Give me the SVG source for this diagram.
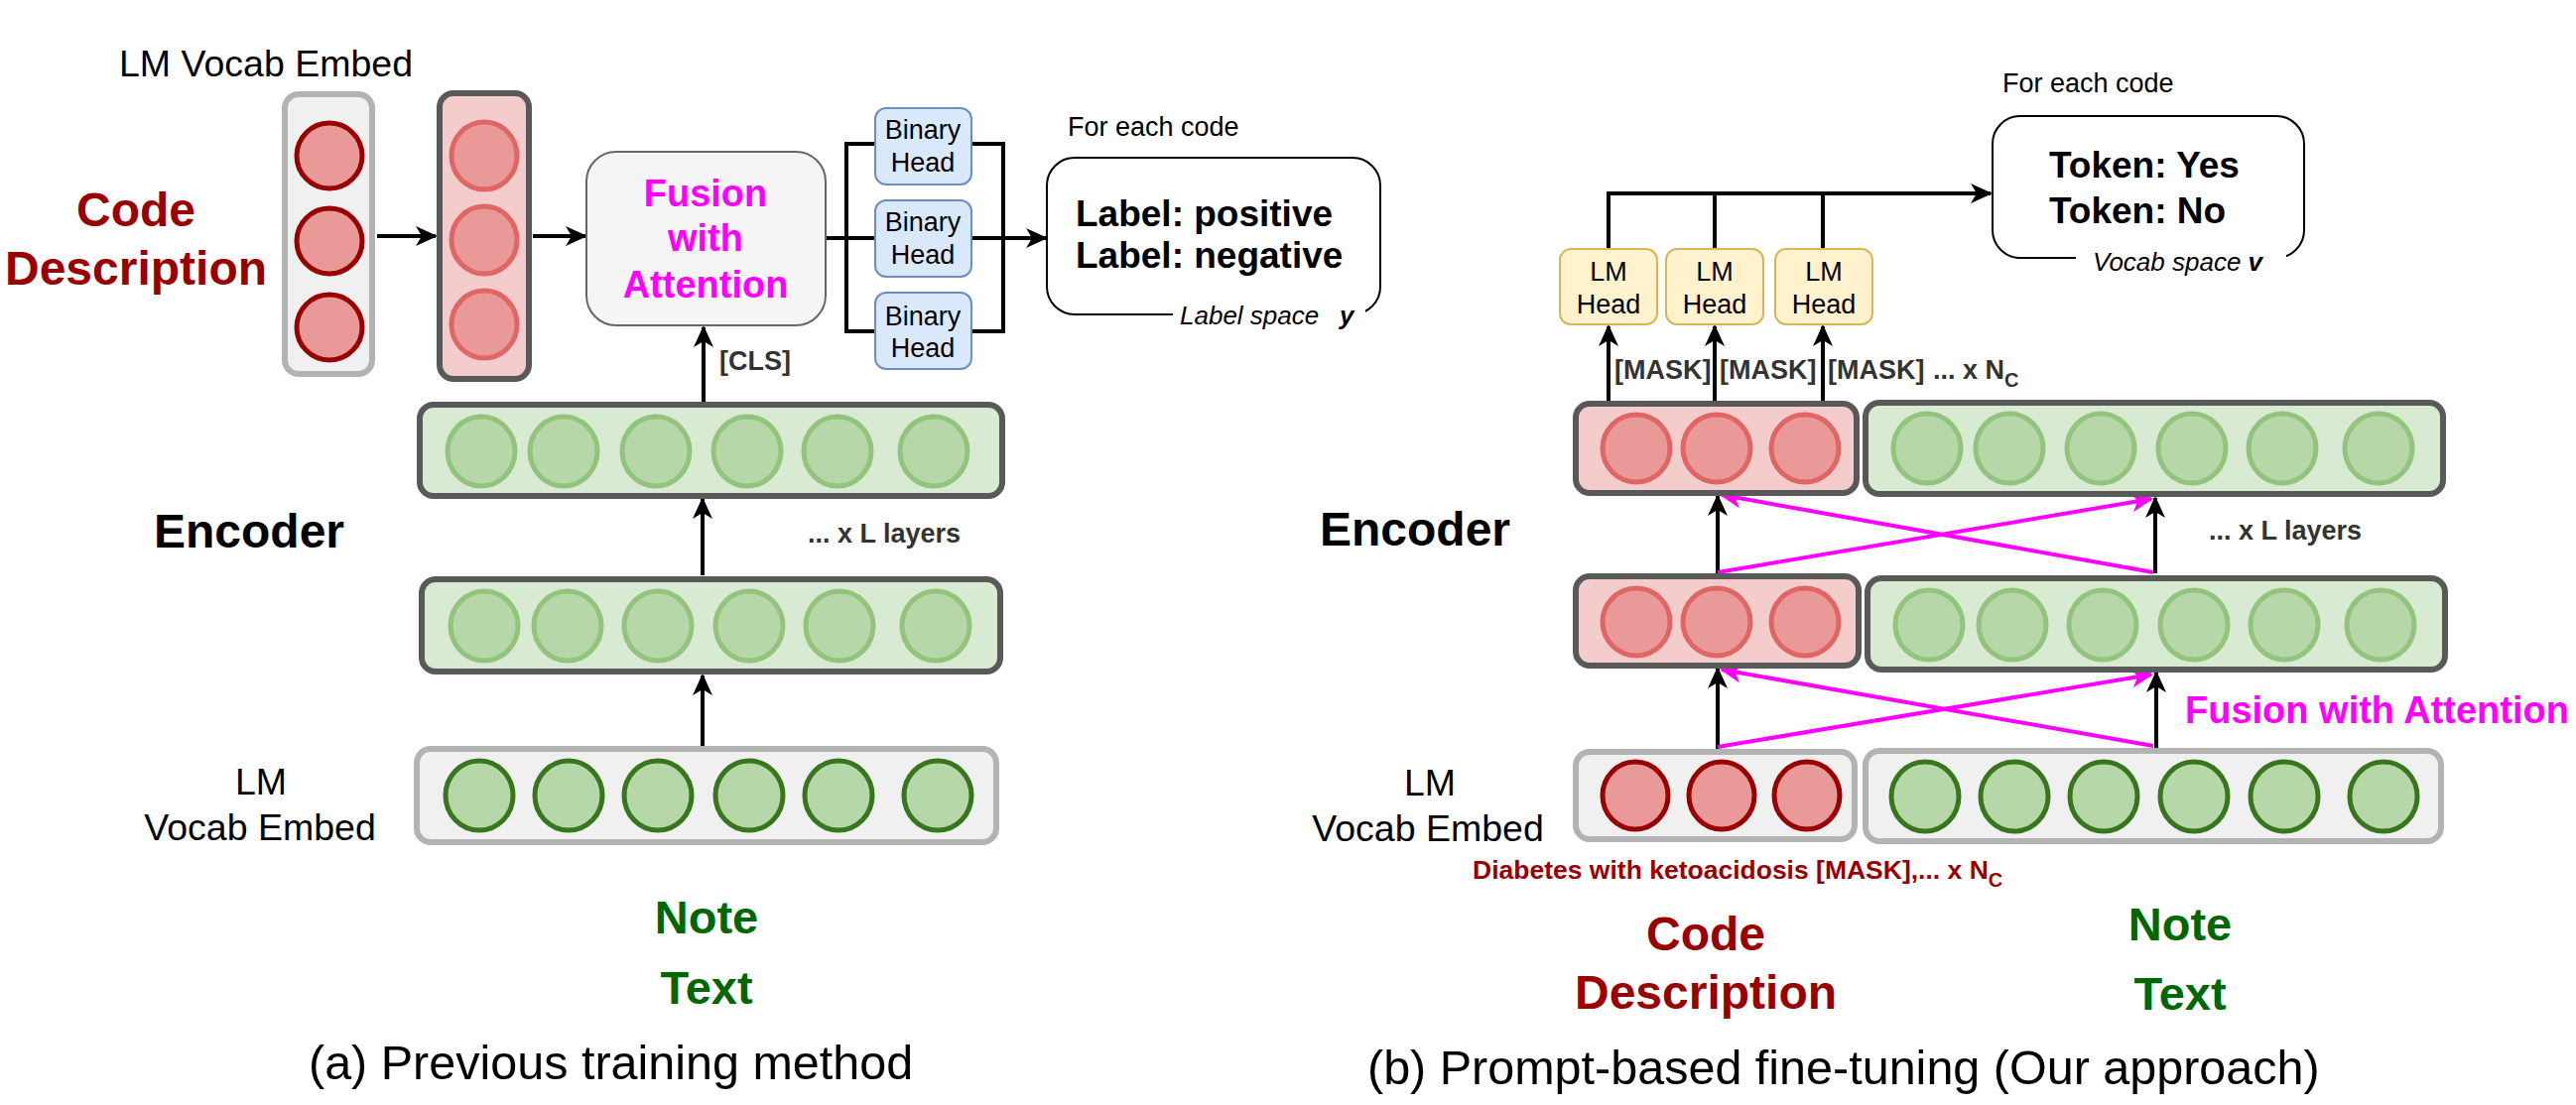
<svg xmlns="http://www.w3.org/2000/svg" width="2596" height="1114" viewBox="0 0 2596 1114">
<style>
text{font-family:"Liberation Sans",Arial,Helvetica,sans-serif;}
.reg{font-size:37.5px;fill:#000;}
.head{font-size:27px;fill:#000;text-anchor:middle;}
.small{font-size:27px;fill:#000;}
.big{font-size:37px;font-weight:bold;fill:#000;}
.ital{font-size:26px;font-style:italic;fill:#000;}
.lbl{font-size:27px;font-weight:bold;fill:#333;}
.enc{font-size:48px;font-weight:bold;fill:#000;}
.code{font-size:48px;font-weight:bold;fill:#990000;text-anchor:middle;}
.note{font-size:47px;font-weight:bold;fill:#006600;text-anchor:middle;}
.fus{font-size:38px;font-weight:bold;fill:#ff00ff;}
.cap{font-size:48.5px;fill:#000;}
.box-dark{stroke:#595959;stroke-width:6;}
.box-gray{fill:#f0f0f0;stroke:#b3b3b3;stroke-width:6;}
.fill-g{fill:#d9ead3;}
.fill-p{fill:#f4cccc;}
.c-lg{fill:#b6d7a8;stroke:#93c47d;stroke-width:5;}
.c-dg{fill:#b6d7a8;stroke:#38761d;stroke-width:5;}
.c-pk{fill:#ea9999;stroke:#e06666;stroke-width:5;}
.c-dr{fill:#ea9999;stroke:#990000;stroke-width:5;}
.bh{fill:#dae8fc;stroke:#6c8ebf;stroke-width:2;}
.lh{fill:#fff2cc;stroke:#d6b656;stroke-width:2;}
.ln{stroke:#000;stroke-width:4;fill:none;}
.lm{stroke:#ff00ff;stroke-width:4;fill:none;}
.arr{marker-end:url(#ah);}
.arrm{marker-end:url(#ahm);}
</style>
<defs>
<marker id="ah" markerUnits="userSpaceOnUse" markerWidth="22" markerHeight="20" refX="20" refY="10" orient="auto" viewBox="0 0 22 20">
<path d="M0,0 L22,10 L0,20 L6,10 z" fill="#000"/>
</marker>
<marker id="ahm" markerUnits="userSpaceOnUse" markerWidth="22" markerHeight="20" refX="20" refY="10" orient="auto" viewBox="0 0 22 20">
<path d="M0,0 L22,10 L0,20 L6,10 z" fill="#ff00ff"/>
</marker>
</defs>
<rect width="2596" height="1114" fill="#fff"/>

<!-- ===== Connectors ===== -->
<g id="connectors">
<!-- left -->
<line class="ln arr" x1="380" y1="238" x2="439" y2="238"/>
<line class="ln arr" x1="537" y1="238" x2="590" y2="238"/>
<line class="ln arr" x1="709" y1="405" x2="709" y2="330"/>
<line class="ln arr" x1="708" y1="580" x2="708" y2="503"/>
<line class="ln arr" x1="708" y1="752" x2="708" y2="681"/>
<line class="ln" x1="832" y1="240" x2="882" y2="240"/>
<polyline class="ln" points="882,145 853,145 853,334 882,334"/>
<polyline class="ln" points="979,145 1011,145 1011,334 979,334"/>
<line class="ln arr" x1="979" y1="240" x2="1054" y2="240"/>
<!-- right -->
<line class="ln arr" x1="1621" y1="405" x2="1621" y2="329"/>
<line class="ln arr" x1="1728" y1="405" x2="1728" y2="329"/>
<line class="ln arr" x1="1837" y1="405" x2="1837" y2="329"/>
<line class="ln" x1="1621" y1="251" x2="1621" y2="195"/>
<line class="ln" x1="1728" y1="251" x2="1728" y2="195"/>
<line class="ln" x1="1837" y1="251" x2="1837" y2="195"/>
<line class="ln arr" x1="1619" y1="195" x2="2006" y2="195"/>
<line class="ln arr" x1="1731" y1="578" x2="1731" y2="500"/>
<line class="ln arr" x1="2172" y1="578" x2="2172" y2="502"/>
<line class="ln arr" x1="1731" y1="755" x2="1731" y2="674"/>
<line class="ln arr" x1="2173" y1="755" x2="2173" y2="678"/>
<line class="lm arrm" x1="1731" y1="577" x2="2168" y2="503"/>
<line class="lm arrm" x1="2170" y1="577" x2="1735" y2="499"/>
<line class="lm arrm" x1="1731" y1="753" x2="2168" y2="680"/>
<line class="lm arrm" x1="2170" y1="752" x2="1735" y2="675"/>
</g>

<!-- ===== Left panel ===== -->
<g id="left-vocab-label"><text class="reg" x="268" y="77" text-anchor="middle">LM Vocab Embed</text></g>
<g id="left-code-desc">
<text class="code" x="137" y="228">Code</text>
<text class="code" x="137" y="287">Description</text>
</g>
<g id="left-code-vocab">
<rect class="box-gray" x="287" y="95" width="88" height="282" rx="14"/>
<ellipse class="c-dr" cx="332" cy="157" rx="33" ry="33"/>
<ellipse class="c-dr" cx="332" cy="243" rx="33" ry="33"/>
<ellipse class="c-dr" cx="332" cy="330" rx="33" ry="33"/>
</g>
<g id="left-code-enc">
<rect class="box-dark fill-p" x="443" y="94" width="90" height="288" rx="14"/>
<ellipse class="c-pk" cx="488" cy="157" rx="33" ry="34"/>
<ellipse class="c-pk" cx="488" cy="242" rx="33" ry="34"/>
<ellipse class="c-pk" cx="488" cy="327" rx="33" ry="34"/>
</g>
<g id="left-fusion">
<rect x="591" y="153" width="241" height="175" rx="30" fill="#f5f5f5" stroke="#666" stroke-width="2"/>
<text class="fus" x="711" y="208" text-anchor="middle">Fusion</text>
<text class="fus" x="711" y="253" text-anchor="middle">with</text>
<text class="fus" x="711" y="300" text-anchor="middle">Attention</text>
</g>
<g id="binary-head-1"><rect class="bh" x="882" y="109" width="97" height="77" rx="11"/><text class="head" x="930" y="140">Binary</text><text class="head" x="930" y="173">Head</text></g>
<g id="binary-head-2"><rect class="bh" x="882" y="202" width="97" height="77" rx="11"/><text class="head" x="930" y="233">Binary</text><text class="head" x="930" y="266">Head</text></g>
<g id="binary-head-3"><rect class="bh" x="882" y="295" width="97" height="77" rx="11"/><text class="head" x="930" y="328">Binary</text><text class="head" x="930" y="360">Head</text></g>
<g id="label-space">
<text class="small" x="1076" y="137">For each code</text>
<rect x="1055" y="159" width="336" height="158" rx="28" fill="#fff" stroke="#000" stroke-width="2"/>
<rect x="1182" y="306" width="194" height="24" fill="#fff"/>
<text class="big" x="1084" y="228">Label: positive</text>
<text class="big" x="1084" y="270">Label: negative</text>
<text class="ital" x="1189" y="327">Label space <tspan x="1350" font-weight="bold">y</tspan></text>
</g>
<g id="left-cls"><text class="lbl" x="725" y="373">[CLS]</text></g>
<g id="left-encoder-label"><text class="enc" x="155" y="552">Encoder</text></g>
<g id="left-layers"><text class="lbl" x="814" y="547">... x L layers</text></g>
<g id="left-row-top">
<rect class="box-dark fill-g" x="423" y="408" width="587" height="92" rx="14"/>
<ellipse class="c-lg" cx="485" cy="455" rx="34" ry="35"/>
<ellipse class="c-lg" cx="568" cy="455" rx="34" ry="35"/>
<ellipse class="c-lg" cx="661" cy="455" rx="34" ry="35"/>
<ellipse class="c-lg" cx="753" cy="455" rx="34" ry="35"/>
<ellipse class="c-lg" cx="844" cy="455" rx="34" ry="35"/>
<ellipse class="c-lg" cx="941" cy="455" rx="34" ry="35"/>
</g>
<g id="left-row-mid">
<rect class="box-dark fill-g" x="425" y="584" width="583" height="93" rx="14"/>
<ellipse class="c-lg" cx="488" cy="631" rx="34" ry="35"/>
<ellipse class="c-lg" cx="572" cy="631" rx="34" ry="35"/>
<ellipse class="c-lg" cx="663" cy="631" rx="34" ry="35"/>
<ellipse class="c-lg" cx="755" cy="631" rx="34" ry="35"/>
<ellipse class="c-lg" cx="846" cy="631" rx="34" ry="35"/>
<ellipse class="c-lg" cx="943" cy="631" rx="34" ry="35"/>
</g>
<g id="left-row-vocab">
<rect class="box-gray" x="420" y="755" width="584" height="94" rx="14"/>
<ellipse class="c-dg" cx="483" cy="802" rx="34" ry="35"/>
<ellipse class="c-dg" cx="573" cy="802" rx="34" ry="35"/>
<ellipse class="c-dg" cx="663" cy="802" rx="34" ry="35"/>
<ellipse class="c-dg" cx="755" cy="802" rx="34" ry="35"/>
<ellipse class="c-dg" cx="845" cy="802" rx="34" ry="35"/>
<ellipse class="c-dg" cx="945" cy="802" rx="34" ry="35"/>
</g>
<g id="left-vocab-label2">
<text class="reg" x="263" y="801" text-anchor="middle">LM</text>
<text class="reg" x="262" y="847" text-anchor="middle">Vocab Embed</text>
</g>
<g id="left-note-text">
<text class="note" x="712" y="941">Note</text>
<text class="note" x="712" y="1012">Text</text>
</g>
<g id="caption-a"><text class="cap" x="311" y="1088">(a) Previous training method</text></g>

<!-- ===== Right panel ===== -->
<g id="lm-head-1"><rect class="lh" x="1572" y="251" width="98" height="76" rx="11"/><text class="head" x="1621" y="283">LM</text><text class="head" x="1621" y="316">Head</text></g>
<g id="lm-head-2"><rect class="lh" x="1679" y="251" width="98" height="76" rx="11"/><text class="head" x="1728" y="283">LM</text><text class="head" x="1728" y="316">Head</text></g>
<g id="lm-head-3"><rect class="lh" x="1789" y="251" width="98" height="76" rx="11"/><text class="head" x="1838" y="283">LM</text><text class="head" x="1838" y="316">Head</text></g>
<g id="vocab-space">
<text class="small" x="2018" y="93">For each code</text>
<rect x="2008" y="117" width="314" height="143" rx="28" fill="#fff" stroke="#000" stroke-width="2"/>
<rect x="2092" y="249" width="212" height="24" fill="#fff"/>
<text class="big" x="2065" y="179">Token: Yes</text>
<text class="big" x="2065" y="225">Token: No</text>
<text class="ital" x="2109" y="273">Vocab space <tspan font-weight="bold">v</tspan></text>
</g>
<g id="mask-labels">
<text class="lbl" x="1627" y="382">[MASK]</text>
<text class="lbl" x="1733" y="382">[MASK]</text>
<text class="lbl" x="1842" y="382">[MASK]</text>
<text class="lbl" x="1948" y="382" fill="#111">... x N<tspan font-size="20" dy="8">C</tspan></text>
</g>
<g id="right-encoder-label"><text class="enc" x="1330" y="550">Encoder</text></g>
<g id="right-layers"><text class="lbl" x="2226" y="544">... x L layers</text></g>
<g id="right-fusion-label"><text class="fus" x="2202" y="729">Fusion with Attention</text></g>
<g id="right-code-top">
<rect class="box-dark fill-p" x="1588" y="407" width="283" height="90" rx="14"/>
<ellipse class="c-pk" cx="1649" cy="452" rx="34" ry="34"/>
<ellipse class="c-pk" cx="1730" cy="452" rx="34" ry="34"/>
<ellipse class="c-pk" cx="1819" cy="452" rx="34" ry="34"/>
</g>
<g id="right-note-top">
<rect class="box-dark fill-g" x="1880" y="406" width="582" height="92" rx="14"/>
<ellipse class="c-lg" cx="1942" cy="452" rx="34" ry="35"/>
<ellipse class="c-lg" cx="2025" cy="452" rx="34" ry="35"/>
<ellipse class="c-lg" cx="2117" cy="452" rx="34" ry="35"/>
<ellipse class="c-lg" cx="2209" cy="452" rx="34" ry="35"/>
<ellipse class="c-lg" cx="2300" cy="452" rx="34" ry="35"/>
<ellipse class="c-lg" cx="2397" cy="452" rx="34" ry="35"/>
</g>
<g id="right-code-mid">
<rect class="box-dark fill-p" x="1588" y="581" width="285" height="90" rx="14"/>
<ellipse class="c-pk" cx="1649" cy="627" rx="34" ry="34"/>
<ellipse class="c-pk" cx="1730" cy="627" rx="34" ry="34"/>
<ellipse class="c-pk" cx="1819" cy="627" rx="34" ry="34"/>
</g>
<g id="right-note-mid">
<rect class="box-dark fill-g" x="1882" y="583" width="582" height="92" rx="14"/>
<ellipse class="c-lg" cx="1944" cy="630" rx="34" ry="35"/>
<ellipse class="c-lg" cx="2028" cy="630" rx="34" ry="35"/>
<ellipse class="c-lg" cx="2119" cy="630" rx="34" ry="35"/>
<ellipse class="c-lg" cx="2211" cy="630" rx="34" ry="35"/>
<ellipse class="c-lg" cx="2302" cy="630" rx="34" ry="35"/>
<ellipse class="c-lg" cx="2399" cy="630" rx="34" ry="35"/>
</g>
<g id="right-code-vocab">
<rect class="box-gray" x="1588" y="758" width="281" height="88" rx="14"/>
<ellipse class="c-dr" cx="1648" cy="802" rx="33" ry="34"/>
<ellipse class="c-dr" cx="1735" cy="802" rx="33" ry="34"/>
<ellipse class="c-dr" cx="1821" cy="802" rx="33" ry="34"/>
</g>
<g id="right-note-vocab">
<rect class="box-gray" x="1880" y="757" width="580" height="91" rx="14"/>
<ellipse class="c-dg" cx="1940" cy="803" rx="34" ry="35"/>
<ellipse class="c-dg" cx="2030" cy="803" rx="34" ry="35"/>
<ellipse class="c-dg" cx="2120" cy="803" rx="34" ry="35"/>
<ellipse class="c-dg" cx="2211" cy="803" rx="34" ry="35"/>
<ellipse class="c-dg" cx="2302" cy="803" rx="34" ry="35"/>
<ellipse class="c-dg" cx="2402" cy="803" rx="34" ry="35"/>
</g>
<g id="right-vocab-label">
<text class="reg" x="1441" y="802" text-anchor="middle">LM</text>
<text class="reg" x="1439" y="848" text-anchor="middle">Vocab Embed</text>
</g>
<g id="prompt-text"><text x="1484" y="886" font-size="26.5" font-weight="bold" fill="#990000">Diabetes with ketoacidosis [MASK],... x N<tspan font-size="20" dy="8">C</tspan></text></g>
<g id="right-code-desc">
<text class="code" x="1719" y="958">Code</text>
<text class="code" x="1719" y="1017">Description</text>
</g>
<g id="right-note-text">
<text class="note" x="2197" y="948">Note</text>
<text class="note" x="2197" y="1018">Text</text>
</g>
<g id="caption-b"><text class="cap" x="1378" y="1093">(b) Prompt-based fine-tuning (Our approach)</text></g>
</svg>
